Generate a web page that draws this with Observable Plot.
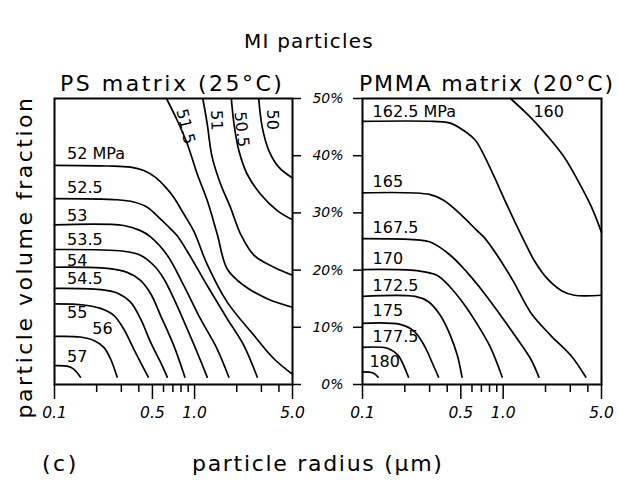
<!DOCTYPE html>
<html><head><meta charset="utf-8">
<script src="https://cdn.jsdelivr.net/npm/d3@7"></script>
<script src="https://cdn.jsdelivr.net/npm/@observablehq/plot@0.6"></script>
<style>
body{margin:0;background:#fff;}
#chart{position:relative;width:618px;height:489px;background:#fff;font-family:"DejaVu Sans",sans-serif;color:#000;overflow:hidden}
.t{position:absolute;white-space:nowrap;font-size:22px;letter-spacing:2.5px;line-height:1}
#ylab{left:25px;top:257px;transform:translate(-50%,-50%) rotate(-90deg)}
#left,#right{position:absolute;top:60px}
#left{left:0}
#right{left:310px}
[aria-label="y-axis tick label"]{font-style:italic}
</style></head><body>
<div id="chart">
<div class="t" style="left:0;width:618px;text-align:center;top:31px;font-size:20px;letter-spacing:1.2px">MI particles</div>
<div class="t" style="left:60px;top:73px">PS matrix (25°C)</div>
<div class="t" style="left:359px;top:73px;letter-spacing:1.8px">PMMA matrix (20°C)</div>
<div class="t" id="ylab">particle volume fraction</div>
<div id="left"></div><div id="right"></div>
<div class="t" style="left:42px;top:453px">(c)</div>
<div class="t" style="left:192px;top:453px;letter-spacing:1.7px">particle radius (μm)</div>
</div>
<script>
// axis ticks
const xMajor = [0.1, 0.5, 1, 5];
const xMajorLabels = ["0.1", "0.5", "1.0", "5.0"];
const xMinor = [0.2, 0.3, 0.4, 0.6, 0.7, 0.8, 0.9, 2, 3, 4];
const yTicks = [0, 10, 20, 30, 40, 50];
const yTickLabels = ["0%", "10%", "20%", "30%", "40%", "50%"];

// PS matrix contours: [particle radius (µm), volume fraction (%)]
const psLevels = [52, 52.5, 53, 53.5, 54, 54.5, 55, 56, 57, 51.5, 51, 50.5, 50];
const ps52 = [[0.1,38.3],[0.238,38.2],[0.349,38.0],[0.434,37.4],[0.526,36.2],[0.62,34.5],[0.711,32.7],[0.838,29.8],[0.987,26.8],[1.23,21.0],[1.71,14.4],[2.65,8.6],[3.68,4.5],[5.0,1.8]];
const ps52_5 = [[0.1,32.5],[0.28,32.3],[0.368,31.9],[0.459,31.0],[0.541,29.5],[0.638,27.8],[0.751,26.0],[0.886,23.3],[1.23,17.3],[1.71,11.5],[2.25,6.8],[2.8,1.3]];
const ps53 = [[0.1,27.9],[0.312,27.8],[0.411,26.9],[0.485,25.8],[0.638,22.6],[0.838,17.3],[1.10,11.5],[1.45,6.2],[1.755,1.3]];
const ps53_5 = [[0.1,23.6],[0.312,23.3],[0.411,22.6],[0.512,20.8],[0.603,18.5],[0.711,15.0],[0.886,9.7],[1.044,5.6],[1.23,1.3]];
const ps54 = [[0.1,20.5],[0.238,20.3],[0.33,19.6],[0.411,18.2],[0.485,15.9],[0.571,12.1],[0.711,6.8],[0.852,1.3]];
const ps54_5 = [[0.1,16.8],[0.213,16.6],[0.28,16.0],[0.349,14.4],[0.411,11.5],[0.485,7.4],[0.571,3.9],[0.638,1.3]];
const ps55 = [[0.1,14.1],[0.162,13.9],[0.213,13.3],[0.265,12.1],[0.312,9.7],[0.368,6.2],[0.423,3.3],[0.467,1.3]];
const ps56 = [[0.1,8.4],[0.153,8.3],[0.191,7.7],[0.225,6.5],[0.251,4.5],[0.28,1.3]];
const ps57 = [[0.1,3.3],[0.123,3.2],[0.137,2.7],[0.153,1.3]];
const ps51_5 = [[0.63,50],[0.751,46.2],[0.886,42.1],[1.044,36.8],[1.23,32.2],[1.45,26.3],[1.71,20.2],[2.25,17.3],[3.30,15.0],[5.0,13.5]];
const ps51 = [[1.145,50],[1.23,45.6],[1.336,39.7],[1.53,35.1],[1.80,31.0],[2.13,26.3],[2.65,22.6],[3.68,20.5],[5.0,19.1]];
const ps50_5 = [[1.83,50],[1.91,45.6],[2.07,40.9],[2.37,36.8],[2.95,33.3],[3.89,30.4],[5.0,28.8]];
const ps50 = [[2.87,50],[3.04,45.0],[3.39,40.9],[3.99,38.0],[5.0,36.1]];
const psLines = [ps52, ps52_5, ps53, ps53_5, ps54, ps54_5, ps55, ps56, ps57, ps51_5, ps51, ps50_5, ps50];

const psLabelText = ["52 MPa", "52.5", "53", "53.5", "54", "54.5", "55", "56", "57", "51.5", "51", "50.5", "50"];
const psLabelX = [0.123, 0.123, 0.123, 0.123, 0.123, 0.123, 0.123, 0.186, 0.123, 0.861, 1.433, 2.16, 3.60];
const psLabelY = [40.4, 34.4, 29.4, 25.3, 21.7, 18.5, 12.5, 9.7, 4.9, 45.1, 46.2, 44.6, 46.3];

// PMMA matrix contours
const pmLevels = [160, 162.5, 165, 167.5, 170, 172.5, 175, 177.5, 180];
const pm160 = [[1.127,50],[1.566,46.7],[2.07,43.4],[2.69,39.9],[3.39,35.7],[4.195,31.3],[5.0,26.6]];
const pm162_5 = [[0.1,46.0],[0.32,46.0],[0.421,45.7],[0.524,44.4],[0.634,42.7],[0.727,40.2],[0.857,36.5],[1.068,31.3],[1.403,25.2],[1.67,21.6],[2.06,18.5],[2.6,16.4],[3.2,15.6],[5.0,15.6]];
const pm165 = [[0.1,33.5],[0.303,33.2],[0.377,32.2],[0.496,29.8],[0.652,26.9],[0.727,25.8],[0.906,22.6],[1.19,17.9],[1.566,12.6],[2.174,8.6],[3.02,5.1],[3.864,1.3]];
const pm167_5 = [[0.1,25.5],[0.244,25.3],[0.303,24.9],[0.421,22.6],[0.554,19.6],[0.727,16.1],[0.957,12.1],[1.258,8.0],[1.566,4.5],[1.794,1.3]];
const pm170 = [[0.1,20.1],[0.244,19.9],[0.338,19.1],[0.421,17.0],[0.524,14.1],[0.652,10.6],[0.812,6.5],[0.984,1.3]];
const pm172_5 = [[0.1,15.4],[0.237,15.4],[0.293,14.5],[0.357,12.1],[0.421,8.6],[0.472,5.1],[0.51,1.3]];
const pm175 = [[0.1,10.7],[0.185,10.5],[0.233,9.3],[0.275,6.8],[0.313,3.8],[0.347,1.3]];
const pm177_5 = [[0.1,6.5],[0.152,6.3],[0.179,5.1],[0.198,3.1],[0.212,1.3]];
const pm180 = [[0.1,2.2],[0.119,2.0],[0.129,1.3]];
const pmLines = [pm160, pm162_5, pm165, pm167_5, pm170, pm172_5, pm175, pm177_5, pm180];

const pmLabelText = ["162.5 MPa", "160", "165", "167.5", "170", "172.5", "175", "177.5", "180"];
const pmLabelX = [0.118, 1.64, 0.118, 0.118, 0.118, 0.118, 0.118, 0.118, 0.112];
const pmLabelY = [47.6, 47.6, 35.5, 27.4, 22.0, 17.3, 12.8, 8.3, 3.9];

// build tables
const toTable = (levels, lines) => lines.flatMap((pts, i) => pts.map(([r, f]) => ({level: levels[i], r, f})));
const toLabels = (text, xs, ys) => text.map((t, i) => ({t, x: xs[i], y: ys[i]}));
const psTable = toTable(psLevels, psLines);
const pmTable = toTable(pmLevels, pmLines);
const psLab = toLabels(psLabelText, psLabelX, psLabelY);
const pmLab = toLabels(pmLabelText, pmLabelX, pmLabelY);
const rotated = {"51.5": 76, "51": 88, "50.5": 84, "50": 90};
const xLabelOf = new Map(xMajor.map((v, i) => [v, xMajorLabels[i]]));
const yLabelOf = new Map(yTicks.map((v, i) => [v, yTickLabels[i]]));

const common = {
  height: 370, marginTop: 38, marginBottom: 46,
  x: {type: "log", domain: [0.1, 5], label: null},
  y: {domain: [0, 50], label: null},
  style: {fontFamily: "'DejaVu Sans', sans-serif", background: "transparent", color: "black", overflow: "visible"}
};
const xAxes = () => [
  Plot.axisX(xMajor, {tickSize: 15, strokeWidth: 1.5, tickFormat: () => "", label: null}),
  Plot.axisX(xMinor, {tickSize: 8, strokeWidth: 1.5, tickFormat: () => "", label: null}),
  Plot.text(xMajor, {x: d => d, text: d => xLabelOf.get(d), frameAnchor: "bottom", lineAnchor: "top", dy: 22,
    fontSize: 15.5, fontStyle: "italic", ariaLabel: "x-axis tick label"})
];
const lineOpts = {x: "r", y: "f", z: "level", curve: "catmull-rom", stroke: "black", strokeWidth: 1.7};

const left = Plot.plot({
  ...common, width: 310, marginLeft: 54, marginRight: 18,
  marks: [
    Plot.line(psTable, lineOpts),
    Plot.text(psLab.filter(d => !(d.t in rotated)), {x: "x", y: "y", text: "t", textAnchor: "start", fontSize: 16}),
    Plot.text(psLab.filter(d => d.t in rotated), {x: "x", y: "y", text: "t", rotate: d => rotated[d.t], fontSize: 16}),
    ...xAxes(),
    Plot.axisY(yTicks, {anchor: "right", tickSize: 8, strokeWidth: 1.5, tickFormat: () => "", label: null}),
    Plot.frame({strokeWidth: 2})
  ]
});
const right = Plot.plot({
  ...common, width: 308, marginLeft: 52, marginRight: 17,
  marks: [
    Plot.line(pmTable, lineOpts),
    Plot.text(pmLab, {x: "x", y: "y", text: "t", textAnchor: "start", fontSize: 16}),
    ...xAxes(),
    Plot.axisY(yTicks, {anchor: "left", tickSize: 9, tickPadding: 10, strokeWidth: 1.5, fontSize: 14, tickFormat: d => yLabelOf.get(d), label: null}),
    Plot.frame({strokeWidth: 2})
  ]
});
document.getElementById("left").append(left);
document.getElementById("right").append(right);
</script>
</body></html>
